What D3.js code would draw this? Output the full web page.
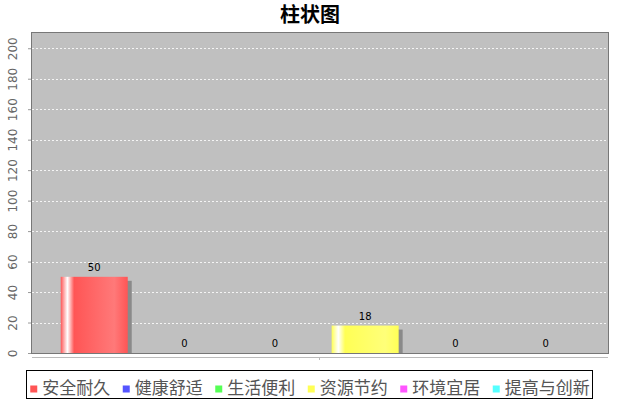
<!DOCTYPE html>
<html>
<head>
<meta charset="utf-8">
<script src="https://cdn.jsdelivr.net/npm/d3@7"></script>
<style>
  html, body { margin: 0; padding: 0; background: #ffffff; }
  svg { display: block; }
</style>
</head>
<body>
<svg id="chart" width="620" height="400"></svg>
<script>
const title = "柱状图";
const categories = ["安全耐久", "健康舒适", "生活便利", "资源节约", "环境宜居", "提高与创新"];
const values = [50, 0, 0, 18, 0, 0];
const colors = ["#ff5555", "#5555ff", "#55ff55", "#ffff55", "#ff55ff", "#55ffff"];
const yTicks = [0, 20, 40, 60, 80, 100, 120, 140, 160, 180, 200];
const yMax = 210;

const svg = d3.select("#chart");
const W = 620, H = 400;
const plot = { left: 32, top: 33, right: 608, bottom: 353 };

const cjk = "'Noto Sans CJK SC', 'Noto Sans', sans-serif";
const latin = "'DejaVu Sans', sans-serif";

function brighter(hex) {
  const c = d3.rgb(hex);
  const f = v => Math.min(255, Math.round(v / 0.7));
  return d3.rgb(f(c.r), f(c.g), f(c.b)).formatHex();
}

const defs = svg.append("defs");
colors.forEach((c, i) => {
  const g = defs.append("linearGradient").attr("id", "grad" + i)
    .attr("x1", "0%").attr("x2", "100%").attr("y1", "0%").attr("y2", "0%");
  g.append("stop").attr("offset", "0%").attr("stop-color", c);
  g.append("stop").attr("offset", "10%").attr("stop-color", "#ffffff");
  g.append("stop").attr("offset", "20%").attr("stop-color", c);
  g.append("stop").attr("offset", "80%").attr("stop-color", brighter(c));
  g.append("stop").attr("offset", "100%").attr("stop-color", c);
});
defs.append("clipPath").attr("id", "plotClip").append("rect")
  .attr("x", plot.left).attr("y", plot.top)
  .attr("width", plot.right - plot.left).attr("height", plot.bottom - plot.top);

// Title
svg.append("text")
  .attr("x", W / 2).attr("y", 22)
  .attr("text-anchor", "middle")
  .style("font-family", cjk).style("font-size", "20px").style("font-weight", "bold")
  .attr("fill", "#000")
  .text(title);

// Scales
const y = d3.scaleLinear().domain([0, yMax]).range([plot.bottom, plot.top]);
const x = d3.scaleBand().domain(categories).range([plot.left, plot.right])
  .paddingInner(0.258).paddingOuter(0.318);

// Plot background
svg.append("rect")
  .attr("x", plot.left).attr("y", plot.top)
  .attr("width", plot.right - plot.left).attr("height", plot.bottom - plot.top)
  .attr("fill", "#c0c0c0");

// Gridlines
svg.append("g").selectAll("line").data(yTicks.filter(d => d > 0)).join("line")
  .attr("x1", plot.left).attr("x2", plot.right)
  .attr("y1", d => Math.round(y(d)) + 0.5).attr("y2", d => Math.round(y(d)) + 0.5)
  .attr("stroke", "#f4f4f4").attr("stroke-width", 1).attr("stroke-dasharray", "2,2");

// Bars
const barG = svg.append("g").attr("clip-path", "url(#plotClip)");
const data = categories.map((c, i) => ({ cat: c, v: values[i], i }));
barG.selectAll("rect.shadow").data(data.filter(d => d.v > 0)).join("rect")
  .attr("class", "shadow")
  .attr("x", d => x(d.cat) + 4).attr("y", d => y(d.v) + 4)
  .attr("width", x.bandwidth()).attr("height", d => y(0) - y(d.v))
  .attr("fill", "#8a8a8a");
barG.selectAll("rect.bar").data(data.filter(d => d.v > 0)).join("rect")
  .attr("class", "bar")
  .attr("x", d => x(d.cat)).attr("y", d => y(d.v))
  .attr("width", x.bandwidth()).attr("height", d => y(0) - y(d.v))
  .attr("fill", d => `url(#grad${d.i})`);

// Value labels
svg.append("g").selectAll("text").data(data).join("text")
  .attr("x", d => x(d.cat) + x.bandwidth() / 2)
  .attr("y", d => y(d.v) - 6)
  .attr("text-anchor", "middle")
  .style("font-family", latin).style("font-size", "10px")
  .attr("fill", "#000")
  .text(d => d.v);

// Plot border
svg.append("rect")
  .attr("x", plot.left - 0.5).attr("y", plot.top - 0.5)
  .attr("width", plot.right - plot.left + 1).attr("height", plot.bottom - plot.top + 1)
  .attr("fill", "none").attr("stroke", "#777777").attr("stroke-width", 1);

// Y axis
const yAxis = svg.append("g")
  .attr("transform", `translate(${plot.left - 1},0)`)
  .call(d3.axisLeft(y).tickValues(yTicks).tickSize(3).tickFormat(d3.format("d")));
yAxis.select(".domain").remove();
yAxis.selectAll(".tick line").attr("stroke", "#999999");
yAxis.selectAll(".tick text")
  .attr("transform", "rotate(-90)")
  .attr("x", 0).attr("y", -18).attr("dy", "0.36em")
  .attr("text-anchor", "middle")
  .style("font-family", latin).style("font-size", "12px")
  .attr("fill", "#666666");

// Category axis line
svg.append("line")
  .attr("x1", plot.left).attr("x2", plot.right)
  .attr("y1", 357.5).attr("y2", 357.5)
  .attr("stroke", "#bbbbbb");
svg.append("line")
  .attr("x1", (plot.left + plot.right) / 2 - 0.5).attr("x2", (plot.left + plot.right) / 2 - 0.5)
  .attr("y1", 357.5).attr("y2", 360)
  .attr("stroke", "#bbbbbb");

// Legend
const legend = svg.append("g");
const sq = 7, gapSq = 5, gapItem = 12.5, fs = 17;
const items = [];
categories.forEach((c, i) => {
  const g = legend.append("g");
  g.append("rect").attr("x", 0).attr("y", -8.5).attr("width", sq).attr("height", sq).attr("fill", colors[i]);
  const t = g.append("text").attr("x", sq + gapSq).attr("y", 0)
    .style("font-family", cjk).style("font-size", fs + "px")
    .attr("fill", "#555555").text(c);
  const w = sq + gapSq + t.node().getComputedTextLength();
  items.push({ g, w });
});
const totalW = items.reduce((s, it) => s + it.w, 0) + gapItem * (items.length - 1);
let startX = W / 2 - totalW / 2;
const baseY = 394;
items.forEach(it => {
  it.g.attr("transform", `translate(${startX},${baseY})`);
  startX += it.w + gapItem;
});
legend.insert("rect", ":first-child")
  .attr("x", 26.5).attr("y", 370.5)
  .attr("width", 566).attr("height", 28)
  .attr("fill", "#ffffff").attr("stroke", "#000000").attr("stroke-width", 1);
</script>
</body>
</html>
